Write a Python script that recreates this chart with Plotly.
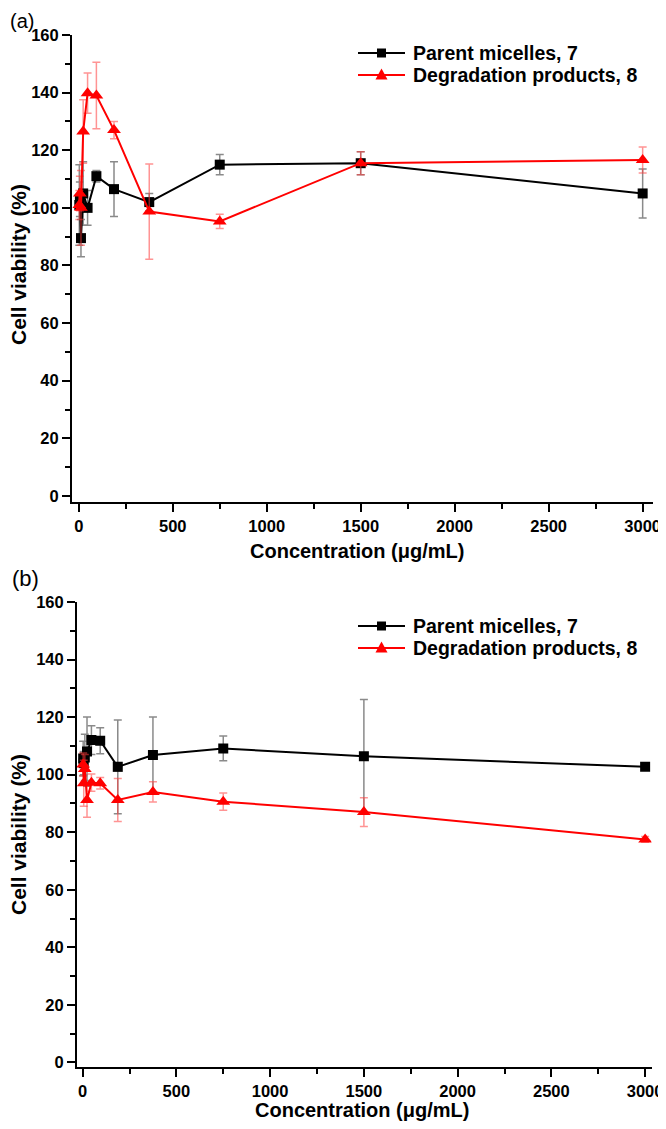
import plotly.graph_objects as go

# ---- data ----
conc = [2.9, 5.9, 11.7, 23.4, 46.9, 93.75, 187.5, 375, 750, 1500, 3000]

a_parent = [101, 103, 89.5, 105, 100, 111, 106.5, 102, 115, 115.5, 105]
a_parent_err = [14, 6, 6.5, 11, 6, 2, 9.5, 3, 3.5, 4, 8.5]
a_degr = [101, 105, 100, 126.5, 139.8, 139, 127, 98.7, 95.3, 115.5, 116.6]
a_degr_err = [5, 6, 13, 11, 7, 11.5, 3, 16.5, 2.5, 4, 4.5]

b_parent = [105.6, 104, 106, 108, 112, 111.8, 102.7, 106.8, 109.1, 106.4, 102.7]
b_parent_err = [6, 4, 8, 12, 5, 4.5, 16.3, 13.2, 4.3, 19.7, 1]
b_degr = [103.5, 97, 102, 91.2, 97.2, 97, 91.2, 94, 90.6, 87, 77.5]
b_degr_err = [4, 8, 5, 6, 3, 2, 7.5, 3.5, 3, 5, 1]

name_parent = "Parent micelles, 7"
name_degr = "Degradation products, 8"
x_ticks = [0, 500, 1000, 1500, 2000, 2500, 3000]
y_ticks = [0, 20, 40, 60, 80, 100, 120, 140, 160]

FONT = "Liberation Sans, Arial, sans-serif"
BLACK = "black"
RED = "#ff0000"

# page has an 8px body margin; figure is sized/positioned to compensate
OFF = 8
W, H = 666 - OFF, 1129 - 2 * OFF


def px(rx):
    return (rx - OFF) / W


def py(ry):
    return 1 - (ry - OFF) / H


fig = go.Figure()


def add_pair(xa, ya, parent, perr, degr, derr):
    fig.add_trace(go.Scatter(
        x=conc, y=parent, name=name_parent, mode="lines+markers",
        xaxis=xa, yaxis=ya, showlegend=False,
        line=dict(color=BLACK, width=2),
        marker=dict(symbol="square", size=10, color=BLACK),
        error_y=dict(type="data", array=perr, visible=True, color="#8a8a8a",
                     thickness=1.5, width=4),
    ))
    fig.add_trace(go.Scatter(
        x=conc, y=degr, name=name_degr, mode="lines+markers",
        xaxis=xa, yaxis=ya, showlegend=False,
        line=dict(color=RED, width=2),
        marker=dict(symbol="triangle-up", size=12, color=RED),
        error_y=dict(type="data", array=derr, visible=True,
                     color="rgba(255,60,60,0.55)", thickness=1.5, width=4),
    ))


add_pair("x", "y", a_parent, a_parent_err, a_degr, a_degr_err)
add_pair("x2", "y2", b_parent, b_parent_err, b_degr, b_degr_err)

tickfont = dict(family=FONT, size=16.5, color="black", weight="bold")


def xaxis(domain, anchor, rng):
    return dict(domain=domain, anchor=anchor, range=rng, automargin=False,
                tickvals=x_ticks, ticktext=[str(v) for v in x_ticks],
                ticks="outside", ticklen=8, tickwidth=2, tickcolor="black",
                minor=dict(ticks="outside", ticklen=5, tickwidth=2,
                           tickcolor="black", dtick=250, tick0=0),
                showline=True, linewidth=2, linecolor="black",
                showgrid=False, zeroline=False, tickfont=tickfont)


def yaxis(domain, anchor, rng):
    return dict(domain=domain, anchor=anchor, range=rng, automargin=False,
                tickvals=y_ticks, ticktext=[str(v) for v in y_ticks],
                ticks="outside", ticklen=8, tickwidth=2, tickcolor="black",
                minor=dict(ticks="outside", ticklen=5, tickwidth=2,
                           tickcolor="black", dtick=10, tick0=0),
                showline=True, linewidth=2, linecolor="black",
                showgrid=False, zeroline=False, tickfont=tickfont)


fig.update_layout(
    width=W, height=H,
    margin=dict(l=0, r=0, t=0, b=0, autoexpand=False),
    paper_bgcolor="white", plot_bgcolor="white",
    xaxis=xaxis([px(72), px(653)], "y", [-36, 3055]),
    yaxis=yaxis([py(502), py(35)], "x", [-2.1, 160]),
    xaxis2=xaxis([px(77), px(651.5)], "y2", [-30, 3034]),
    yaxis2=yaxis([py(1066.7), py(602)], "x2", [-1.5, 160]),
    showlegend=False,
)

title_font = dict(family=FONT, size=20, color="black", weight="bold")
ytitle_font = dict(family=FONT, size=21, color="black", weight="bold")
leg_font = dict(family=FONT, size=19.5, color="black", weight="bold")
annos = [
    dict(text="(a)", x=0, y=1, xanchor="left", yanchor="top",
         font=dict(family=FONT, size=20, color="black")),
    dict(text="(b)", x=px(10), y=py(564), xanchor="left", yanchor="top",
         font=dict(family=FONT, size=22, color="black")),
    dict(text="Cell viability (%)", x=px(18), y=py(265), textangle=-90,
         xanchor="center", yanchor="middle", font=ytitle_font),
    dict(text="Cell viability (%)", x=px(18), y=py(835), textangle=-90,
         xanchor="center", yanchor="middle", font=ytitle_font),
    dict(text="Concentration (\u03bcg/mL)", x=px(357), y=py(551),
         xanchor="center", yanchor="middle", font=title_font),
    dict(text="Concentration (\u03bcg/mL)", x=px(362), y=py(1110),
         xanchor="center", yanchor="middle", font=title_font),
]

shapes = []
# manual legends
for row0 in (53, 626):
    for i, (name, color, sym) in enumerate(
            [(name_parent, BLACK, "square"), (name_degr, RED, "triangle")]):
        ry = row0 + 22 * i
        shapes.append(dict(type="line", xref="paper", yref="paper",
                           x0=px(358), x1=px(405), y0=py(ry), y1=py(ry),
                           line=dict(color=color, width=2)))
        cx = 381.5
        if sym == "square":
            shapes.append(dict(type="rect", xref="paper", yref="paper",
                               x0=px(cx - 4.5), x1=px(cx + 4.5),
                               y0=py(ry + 4.5), y1=py(ry - 4.5),
                               fillcolor=color, line=dict(width=0)))
        else:
            shapes.append(dict(type="path", xref="paper", yref="paper",
                               path="M {:.5f} {:.5f} L {:.5f} {:.5f} L {:.5f} {:.5f} Z".format(
                                   px(cx - 6), py(ry + 4.5),
                                   px(cx + 6), py(ry + 4.5),
                                   px(cx), py(ry - 6.5)),
                               fillcolor=color, line=dict(width=0)))
        annos.append(dict(text=name, x=px(411), y=py(ry), xanchor="left",
                          yanchor="middle", font=leg_font))

for a in annos:
    a.update(xref="paper", yref="paper", showarrow=False)
fig.update_layout(annotations=annos, shapes=shapes)

fig.write_html("out.html")
